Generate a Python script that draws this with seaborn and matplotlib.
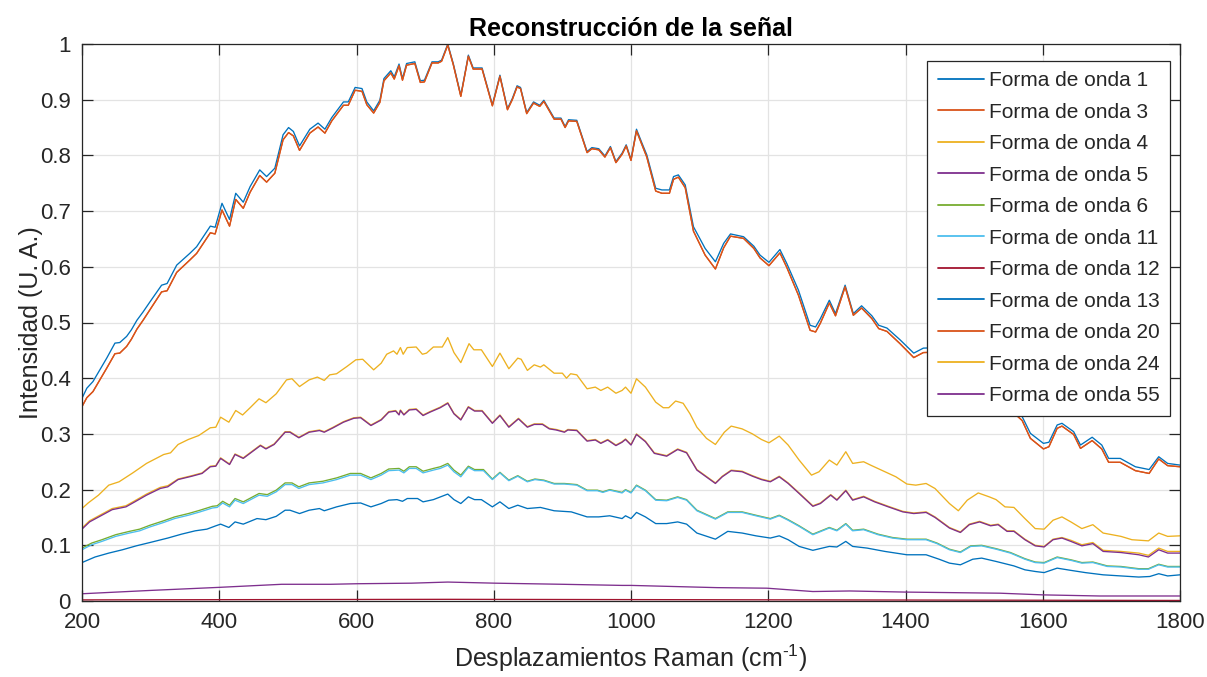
import matplotlib
matplotlib.use("Agg")
import matplotlib.pyplot as plt
import seaborn as sns

# ---------------- data ----------------
SERIES_NAMES = ["Forma de onda 1", "Forma de onda 3", "Forma de onda 4", "Forma de onda 5",
                "Forma de onda 6", "Forma de onda 11", "Forma de onda 12", "Forma de onda 13",
                "Forma de onda 20", "Forma de onda 24", "Forma de onda 55"]

X1 = [200, 207, 216, 226, 236, 248, 255, 265, 272, 280,
      289, 299, 316, 324, 338, 357, 367, 387, 394, 404,
      415, 424, 435, 445, 459, 469, 481, 493, 501, 508,
      517, 532, 544, 554, 564, 581, 588, 598, 608, 615,
      625, 634, 640, 650, 655, 662, 667, 673, 685, 693,
      699, 710, 719, 724, 733, 741, 752, 763, 770, 783,
      798, 809, 820, 827, 834, 839, 848, 858, 867, 873,
      888, 898, 904, 909, 921, 936, 943, 953, 962, 970,
      978, 987, 993, 1000, 1008, 1016, 1023, 1036, 1045, 1056,
      1062, 1069, 1079, 1091, 1108, 1123, 1135, 1145, 1164, 1179,
      1188, 1201, 1217, 1227, 1244, 1261, 1269, 1276, 1289, 1298,
      1312, 1324, 1336, 1351, 1361, 1373, 1392, 1412, 1426, 1450,
      1475, 1500, 1520, 1545, 1570, 1582, 1601, 1609, 1621, 1628,
      1645, 1655, 1672, 1686, 1696, 1713, 1735, 1755, 1769, 1782,
      1800]

Y1 = [.364, .382, .394, .415, .436, .463, .464, .475, .487, .504,
      .519, .537, .567, .570, .603, .624, .636, .673, .671, .714,
      .685, .732, .716, .744, .774, .762, .777, .837, .850, .843,
      .817, .847, .858, .847, .868, .896, .896, .922, .920, .896,
      .880, .899, .938, .952, .941, .964, .938, .965, .968, .934,
      .935, .968, .968, .971, 1.000, .965, .908, .980, .957, .957,
      .891, .944, .884, .902, .925, .922, .877, .896, .890, .899,
      .867, .867, .852, .864, .863, .807, .814, .812, .799, .816,
      .789, .804, .819, .793, .847, .822, .801, .741, .738, .738,
      .762, .765, .747, .672, .633, .609, .642, .659, .654, .637,
      .621, .608, .631, .606, .558, .495, .492, .507, .540, .516,
      .567, .516, .530, .512, .495, .490, .469, .445, .454, .455,
      .435, .410, .390, .360, .331, .301, .283, .285, .316, .319,
      .304, .280, .294, .280, .256, .256, .241, .236, .259, .247,
      .244]

Y3 = [.349, .365, .376, .397, .418, .444, .445, .457, .470, .488,
      .504, .523, .555, .557, .590, .612, .624, .661, .659, .702,
      .673, .721, .705, .734, .764, .752, .768, .828, .841, .835,
      .809, .840, .851, .840, .862, .890, .890, .917, .915, .891,
      .876, .895, .934, .948, .937, .961, .935, .962, .965, .931,
      .932, .966, .966, .969, .998, .963, .906, .978, .955, .955,
      .889, .942, .882, .900, .923, .920, .875, .894, .888, .897,
      .865, .865, .850, .862, .861, .805, .812, .810, .797, .814,
      .787, .802, .817, .791, .844, .819, .797, .736, .732, .732,
      .757, .761, .742, .664, .621, .596, .634, .655, .651, .633,
      .616, .602, .625, .599, .549, .486, .483, .499, .535, .512,
      .564, .513, .526, .507, .489, .484, .462, .437, .446, .447,
      .427, .402, .382, .352, .324, .292, .273, .277, .310, .314,
      .299, .274, .288, .273, .249, .249, .234, .229, .255, .243,
      .241]

X24 = [200, 209, 224, 239, 254, 274, 294, 319, 329, 340,
       355, 370, 387, 395, 402, 414, 424, 434, 445, 458,
       468, 483, 498, 506, 517, 531, 543, 553, 561, 571,
       586, 599, 609, 625, 636, 644, 654, 659, 664, 668,
       674, 687, 696, 702, 712, 725, 733, 742, 752, 764,
       771, 782, 798, 809, 822, 835, 840, 849, 859, 868,
       873, 888, 900, 906, 912, 921, 936, 948, 956, 966,
       978, 987, 992, 1000, 1008, 1021, 1036, 1047, 1055, 1065,
       1076, 1086, 1096, 1110, 1123, 1136, 1146, 1162, 1177, 1190,
       1201, 1216, 1229, 1245, 1263, 1274, 1289, 1300, 1313, 1323,
       1339, 1349, 1370, 1386, 1402, 1415, 1430, 1443, 1464, 1477,
       1490, 1506, 1522, 1532, 1545, 1558, 1574, 1589, 1602, 1615,
       1628, 1641, 1657, 1673, 1688, 1714, 1730, 1754, 1769, 1782,
       1800]
Y24 = [.166, .176, .190, .208, .214, .230, .247, .263, .266, .281,
       .290, .297, .311, .312, .330, .321, .342, .334, .347, .363,
       .356, .372, .397, .399, .385, .397, .402, .396, .406, .408,
       .421, .433, .434, .415, .427, .443, .449, .443, .455, .443,
       .455, .456, .443, .445, .456, .456, .473, .446, .428, .462,
       .451, .451, .421, .445, .417, .436, .434, .414, .424, .420,
       .424, .409, .409, .400, .408, .406, .381, .384, .378, .384,
       .373, .378, .384, .373, .399, .384, .357, .347, .347, .359,
       .355, .336, .312, .292, .281, .303, .314, .309, .300, .290,
       .284, .296, .280, .253, .226, .232, .253, .244, .268, .247,
       .250, .244, .232, .223, .210, .208, .211, .202, .175, .162,
       .181, .194, .187, .182, .169, .168, .148, .130, .129, .145,
       .151, .142, .130, .137, .122, .116, .110, .108, .122, .116,
       .117]

X5 = [200, 211, 226, 244, 264, 277, 294, 314, 325, 340,
      360, 375, 387, 395, 402, 415, 423, 435, 448, 460,
      468, 480, 496, 503, 516, 531, 546, 553, 566, 581,
      596, 606, 621, 636, 647, 657, 662, 664, 669, 677,
      687, 697, 707, 722, 733, 742, 752, 763, 772, 783,
      798, 809, 822, 836, 849, 859, 871, 881, 891, 903,
      908, 921, 936, 948, 956, 966, 978, 987, 992, 1000,
      1008, 1021, 1034, 1052, 1068, 1081, 1096, 1123, 1133, 1146,
      1162, 1177, 1190, 1203, 1216, 1229, 1245, 1265, 1276, 1291,
      1300, 1313, 1323, 1339, 1355, 1375, 1396, 1412, 1430, 1443,
      1464, 1480, 1493, 1508, 1524, 1535, 1548, 1558, 1574, 1589,
      1602, 1615, 1628, 1641, 1657, 1673, 1688, 1714, 1740, 1754,
      1769, 1782, 1800]
Y5 = [.129, .142, .152, .164, .169, .178, .190, .202, .205, .218,
      .224, .229, .241, .242, .256, .245, .263, .256, .268, .279,
      .273, .281, .303, .303, .293, .303, .306, .303, .311, .321,
      .328, .329, .315, .325, .339, .341, .334, .342, .334, .343,
      .344, .333, .339, .347, .355, .336, .325, .348, .341, .341,
      .319, .333, .312, .327, .312, .317, .317, .309, .307, .303,
      .307, .306, .287, .289, .283, .289, .279, .285, .290, .280,
      .299, .286, .265, .260, .272, .266, .235, .211, .223, .234,
      .232, .224, .218, .214, .223, .211, .193, .170, .175, .190,
      .181, .198, .181, .187, .178, .169, .160, .157, .159, .150,
      .131, .123, .137, .142, .135, .137, .125, .125, .110, .099,
      .097, .110, .113, .107, .099, .103, .089, .087, .083, .079,
      .092, .086, .086]
Y4 = [.131, .144, .154, .166, .171, .180, .192, .204, .207, .219,
      .225, .230, .242, .243, .257, .246, .264, .257, .269, .280,
      .274, .282, .304, .304, .294, .304, .307, .304, .312, .322,
      .329, .330, .316, .326, .340, .342, .335, .343, .335, .344,
      .345, .334, .340, .348, .356, .337, .326, .349, .342, .342,
      .320, .334, .313, .328, .313, .318, .318, .310, .308, .304,
      .308, .307, .288, .290, .284, .290, .280, .286, .291, .281,
      .300, .287, .266, .261, .273, .267, .236, .212, .224, .235,
      .233, .225, .219, .215, .224, .212, .194, .171, .176, .191,
      .182, .199, .182, .188, .179, .170, .161, .158, .160, .151,
      .132, .124, .138, .143, .136, .138, .126, .126, .111, .100,
      .098, .111, .114, .109, .101, .105, .091, .089, .086, .082,
      .095, .089, .089]

X11 = [200, 214, 229, 249, 269, 284, 299, 319, 335, 355,
       372, 390, 397, 405, 415, 423, 435, 458, 470, 483,
       496, 506, 516, 531, 551, 571, 591, 606, 621, 636,
       647, 662, 669, 677, 687, 697, 712, 722, 733, 742,
       752, 763, 772, 785, 798, 809, 822, 835, 849, 860,
       873, 888, 903, 921, 936, 951, 959, 969, 987, 992,
       1000, 1008, 1021, 1036, 1052, 1068, 1081, 1096, 1123, 1141,
       1162, 1182, 1203, 1216, 1229, 1245, 1265, 1289, 1300, 1313,
       1323, 1339, 1360, 1381, 1402, 1430, 1446, 1464, 1480, 1495,
       1511, 1532, 1553, 1574, 1589, 1602, 1621, 1641, 1657, 1673,
       1694, 1714, 1740, 1754, 1769, 1782, 1800]
Y11 = [.092, .101, .107, .116, .122, .126, .133, .141, .148, .154,
       .160, .167, .168, .176, .169, .181, .175, .190, .188, .196,
       .209, .209, .202, .209, .212, .218, .226, .226, .218, .226,
       .234, .235, .230, .238, .238, .230, .235, .238, .244, .232,
       .223, .240, .234, .234, .218, .230, .216, .224, .214, .218,
       .216, .210, .210, .208, .198, .198, .195, .199, .194, .199,
       .194, .207, .198, .181, .180, .186, .181, .162, .147, .159,
       .159, .153, .147, .153, .145, .134, .119, .131, .126, .138,
       .126, .128, .119, .113, .110, .110, .103, .092, .087, .098,
       .099, .093, .086, .075, .069, .068, .078, .073, .068, .069,
       .062, .061, .057, .057, .065, .061, .061]
Y6 = [.095, .104, .110, .119, .125, .129, .136, .144, .151, .157,
      .163, .170, .171, .179, .172, .184, .178, .193, .191, .199,
      .212, .212, .205, .212, .215, .221, .229, .229, .221, .229,
      .237, .238, .233, .241, .241, .233, .238, .241, .247, .235,
      .226, .242, .236, .236, .219, .231, .217, .225, .215, .219,
      .217, .211, .211, .209, .199, .199, .196, .200, .195, .200,
      .195, .208, .199, .182, .181, .187, .182, .163, .148, .160,
      .160, .154, .148, .154, .146, .135, .120, .132, .127, .139,
      .127, .129, .120, .114, .111, .111, .104, .093, .088, .099,
      .100, .094, .087, .076, .070, .069, .079, .074, .069, .070,
      .063, .062, .058, .058, .066, .062, .062]

X13 = [200, 219, 239, 259, 279, 299, 325, 345, 365, 382,
       395, 402, 414, 423, 435, 455, 468, 483, 496, 503,
       517, 531, 546, 553, 571, 591, 606, 621, 636, 647,
       659, 667, 674, 689, 697, 712, 733, 742, 752, 763,
       772, 782, 798, 809, 822, 835, 849, 868, 888, 913,
       936, 953, 969, 987, 992, 1000, 1008, 1021, 1036, 1052,
       1068, 1081, 1096, 1123, 1141, 1162, 1182, 1203, 1216, 1229,
       1245, 1265, 1289, 1300, 1313, 1323, 1344, 1370, 1402, 1430,
       1449, 1464, 1480, 1498, 1511, 1532, 1558, 1574, 1589, 1602,
       1621, 1641, 1662, 1688, 1714, 1740, 1756, 1769, 1782, 1800]
Y13 = [.069, .079, .086, .092, .099, .105, .113, .120, .126, .129,
       .135, .138, .132, .142, .138, .148, .146, .152, .163, .163,
       .157, .163, .166, .162, .169, .175, .176, .169, .175, .181,
       .182, .179, .184, .184, .178, .182, .192, .182, .175, .187,
       .182, .182, .169, .178, .166, .172, .166, .168, .162, .160,
       .151, .151, .153, .148, .153, .148, .159, .151, .139, .139,
       .142, .138, .122, .111, .125, .122, .117, .113, .117, .110,
       .098, .091, .098, .097, .107, .098, .095, .089, .083, .083,
       .075, .068, .065, .075, .077, .071, .063, .056, .053, .051,
       .059, .055, .051, .047, .045, .043, .044, .049, .045, .047]

X12 = [200, 733, 1800]
Y12 = [0.002, 0.003, 0.001]

X55 = [200, 300, 400, 491, 562, 601, 680, 733, 802, 900,
       987, 1000, 1125, 1198, 1265, 1319, 1400, 1538, 1600, 1683, 1800]
Y55 = [.013, .019, .0245, .030, .030, .031, .032, .034, .032, .030,
       .028, .028, .024, .023, .017, .018, .016, .014, .011, .009, .009]

Y20 = Y3  # coincides with Forma de onda 3

COLORS = ["#0072BD", "#D95319", "#EDB120", "#7E2F8E", "#77AC30", "#4DBEEE",
          "#A2142F", "#0072BD", "#D95319", "#EDB120", "#7E2F8E"]

XTICKS = [200, 400, 600, 800, 1000, 1200, 1400, 1600, 1800]
YTICKS = [0, 0.1, 0.2, 0.3, 0.4, 0.5, 0.6, 0.7, 0.8, 0.9, 1]
YTICKLABELS = ["0", "0.1", "0.2", "0.3", "0.4", "0.5", "0.6", "0.7", "0.8", "0.9", "1"]

TITLE = "Reconstrucción de la señal"
XLABEL = "Desplazamientos Raman (cm$^{\\mathregular{\u20101}}$)"
YLABEL = "Intensidad (U. A.)"

# ---------------- drawing ----------------
sns.set_style("white")
plt.rcParams["font.family"] = ["Liberation Sans", "DejaVu Sans"]
plt.rcParams["mathtext.fontset"] = "custom"
plt.rcParams["mathtext.rm"] = "Liberation Sans"

DARK = "#262626"
fig = plt.figure(figsize=(12.07, 6.77), dpi=100)
ax = fig.add_axes([82 / 1207, 1 - 601 / 677, 1098 / 1207, 557 / 677])

data = [(X1, Y1), (X1, Y3), (X5, Y4), (X5, Y5), (X11, Y6), (X11, Y11),
        (X12, Y12), (X13, Y13), (X1, Y20), (X24, Y24), (X55, Y55)]
for (xs, ys), name, col in zip(data, SERIES_NAMES, COLORS):
    sns.lineplot(x=xs, y=ys, ax=ax, color=col, lw=0.95, label=name,
                 estimator=None, sort=False)

ax.set_xlim(200, 1800)
ax.set_ylim(0, 1)
ax.set_xticks(XTICKS)
ax.set_xticklabels([str(t) for t in XTICKS])
ax.set_yticks(YTICKS)
ax.set_yticklabels(YTICKLABELS)
ax.grid(True, color="#e3e3e3", lw=0.9)
ax.set_axisbelow(True)
for sp in ax.spines.values():
    sp.set_visible(True)
    sp.set_color(DARK)
    sp.set_linewidth(0.9)
ax.tick_params(direction="in", length=8, width=0.9, color=DARK,
               labelcolor=DARK, labelsize=16, top=True, right=True,
               bottom=True, left=True, pad=8)

ax.set_title(TITLE, fontsize=18, fontweight="bold", pad=6, color="black")
ax.set_xlabel(XLABEL, fontsize=18, color=DARK, labelpad=7)
ax.set_ylabel(YLABEL, fontsize=18, color=DARK, labelpad=-2)

leg = ax.legend(loc="upper right", bbox_to_anchor=(0.9909, 0.970),
                frameon=True, fancybox=False, framealpha=1, edgecolor=DARK,
                fontsize=15, handlelength=2.2, handletextpad=0.25,
                labelspacing=0.6, borderpad=0.5, borderaxespad=0)
leg.get_frame().set_linewidth(0.9)
for line in leg.get_lines():
    line.set_linewidth(1.3)

fig.savefig("out.png", dpi=100)
